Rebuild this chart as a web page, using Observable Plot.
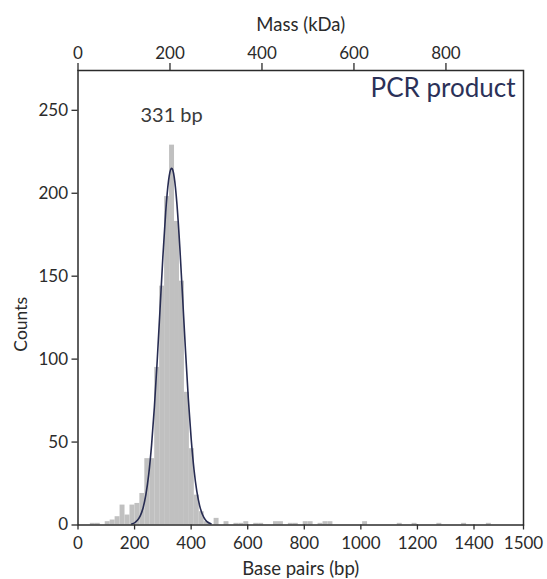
<!DOCTYPE html>
<html>
<head>
<meta charset="utf-8">
<script src="https://cdn.jsdelivr.net/npm/d3@7"></script>
<script src="https://cdn.jsdelivr.net/npm/@observablehq/plot@0.6"></script>
<style>
  html, body { margin: 0; padding: 0; background: #fff; }
  #chart { width: 547px; height: 579px; }
</style>
</head>
<body>
<div id="chart"></div>
<script>
// ---- data ----
const binWidth = 17.5; // bp
const binCenters = [52.5, 70, 105, 122.5, 140, 157.5, 175, 192.5, 210, 227.5, 245, 262.5, 280, 297.5,
  315, 332.5, 350, 367.5, 385, 402.5, 420, 437.5, 455, 490, 525, 560, 577.5, 595, 630, 647.5,
  700, 717.5, 752.5, 770, 805, 822.5, 857.5, 875, 892.5, 1015, 1137.5, 1190, 1277.5, 1365, 1452.5];
const binCounts = [1, 1, 2, 3, 5, 12, 6, 12, 13, 19, 40, 40, 95, 144,
  198, 229, 183, 147, 80, 46, 18, 8, 2, 4, 2, 1, 1, 2, 1, 1,
  2, 2, 1, 1, 2, 2, 1, 2, 2, 2, 1, 1, 1, 1, 1];

// fitted curve
const fitX = [190, 200, 210, 220, 230, 240, 250, 260, 270, 280, 290, 300, 310, 320, 330,
  340, 350, 360, 370, 380, 390, 400, 410, 420, 430, 440, 450, 460, 470];
const fitY = [0.6, 1.3, 2.8, 5.5, 10.3, 18.3, 30.5, 48, 71, 99, 130, 161.5, 188.6, 207.4, 215,
  209.9, 193, 167.4, 136.7, 105.3, 76.3, 52.2, 33.6, 20.4, 11.7, 6.3, 3.2, 1.5, 0.7];

const bpTicks = [0, 200, 400, 600, 800, 1000, 1200, 1400, 1575];
const bpTickLabels = ["0", "200", "400", "600", "800", "1000", "1200", "1400", "1500"];
const massTicks = [0, 200, 400, 600, 800];     // kDa
const kDaPerBp = 0.615;
const countTicks = [0, 50, 100, 150, 200, 250];

const peakLabel = "331 bp";
const peakLabelX = 331;
const peakLabelY = 247;
const countsLabelY = 121;
const title = "PCR product";

// ---- tables built from the arrays ----
const bins = binCenters.map((c, i) => ({x1: c - binWidth / 2, x2: c + binWidth / 2, count: binCounts[i]}));
const fit = fitX.map((x, i) => ({x, y: fitY[i]}));
const bpLabelMap = new Map(bpTicks.map((t, i) => [t, bpTickLabels[i]]));
const massPos = massTicks.map(m => m / kDaPerBp);
const massLabelMap = new Map(massPos.map((p, i) => [p, String(massTicks[i])]));

const ink = "#2b2b2b";
const plot = Plot.plot({
  width: 547,
  height: 579,
  marginLeft: 77.5,
  marginRight: 24,
  marginTop: 70,
  marginBottom: 54.5,
  style: {fontFamily: "Lato, 'Open Sans', sans-serif", fontSize: "17px", color: ink, background: "#fff"},
  x: {domain: [0, 1575]},
  y: {domain: [0, 274]},
  marks: [
    Plot.rectY(bins, {x1: "x1", x2: "x2", y: "count", fill: "#c0c0c0", insetLeft: 0, insetRight: 0}),
    Plot.line(fit, {x: "x", y: "y", stroke: "#272c52", strokeWidth: 1.6, curve: "natural"}),
    Plot.frame({stroke: ink, strokeWidth: 1.5}),
    Plot.axisX({ticks: bpTicks, tickFormat: d => bpLabelMap.get(d), tickSize: 5, tickPadding: 7,
      label: null, stroke: ink, strokeWidth: 1.3, fontSize: 17}),
    Plot.axisX({anchor: "top", ticks: massPos, tickFormat: d => massLabelMap.get(d), tickSize: 8, tickPadding: 4,
      label: null, stroke: ink, strokeWidth: 1.3, fontSize: 17}),
    Plot.axisY({ticks: countTicks, tickSize: 6, tickPadding: 4, label: null, stroke: ink, strokeWidth: 1.3, fontSize: 17}),
    Plot.text([title], {frameAnchor: "top-right", lineAnchor: "middle", dx: -8, dy: 18, textAnchor: "end", fontSize: 26, fill: "#2b3158"}),
    Plot.text([peakLabel], {x: () => peakLabelX, y: () => peakLabelY, lineAnchor: "middle", fontSize: 20, fill: "#3a3a3a"}),
    Plot.text(["Base pairs (bp)"], {frameAnchor: "bottom", lineAnchor: "middle", dy: 44, fontSize: 18.5, fill: ink}),
    Plot.text(["Mass (kDa)"], {frameAnchor: "top", lineAnchor: "middle", dy: -45, fontSize: 18.5, fill: ink}),
    Plot.text(["Counts"], {x: () => 0, y: () => countsLabelY, dx: -57, rotate: -90, lineAnchor: "middle", fontSize: 17.5, fill: ink})
  ]
});
document.getElementById("chart").append(plot);
</script>
</body>
</html>
